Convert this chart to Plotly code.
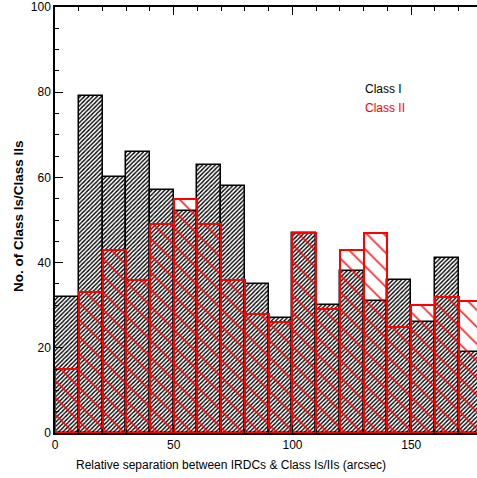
import plotly.graph_objects as go

# Histogram of separations (arcsec), 10-arcsec bins
bin_left = [0, 10, 20, 30, 40, 50, 60, 70, 80, 90, 100, 110, 120, 130, 140, 150, 160, 170]
class_i = [32, 79, 60, 66, 57, 52, 63, 58, 35, 27, 47, 30, 38, 31, 36, 26, 41, 19]
class_ii = [15, 33, 43, 36, 49, 55, 49, 36, 28, 26, 47, 29, 43, 47, 25, 30, 32, 31]
bin_width = 10
centers = [b + bin_width / 2 for b in bin_left]

W, H = 477, 478
ML, MR, MT, MB = 55, 0, 5, 45
x_max = 177.7

fig = go.Figure()

fig.add_trace(go.Bar(
    x=centers, y=class_i, width=bin_width,
    marker=dict(
        color="white",
        line=dict(color="black", width=1.5),
        pattern=dict(shape="/", fgcolor="black", bgcolor="white",
                     size=3, solidity=0.45, fillmode="replace"),
    ),
    name="Class I", showlegend=False,
))

fig.add_trace(go.Bar(
    x=centers, y=class_ii, width=bin_width,
    marker=dict(
        color="rgba(0,0,0,0)",
        line=dict(color="red", width=2),
        pattern=dict(shape="\\", fgcolor="red", bgcolor="rgba(0,0,0,0)",
                     size=12, solidity=0.12, fillmode="replace"),
    ),
    name="Class II", showlegend=False,
))

font = dict(family="Liberation Sans, Arial, sans-serif", size=12, color="black")

fig.update_layout(
    width=W, height=H,
    margin=dict(l=ML, r=MR, t=MT, b=MB),
    paper_bgcolor="white", plot_bgcolor="white",
    barmode="overlay", bargap=0,
    font=font,
    xaxis=dict(
        range=[0, x_max], showgrid=False, zeroline=False,
        showline=True, linecolor="black", linewidth=1.5,
        mirror="ticks", ticks="inside", ticklen=8, tickwidth=1,
        tickcolor="black", tick0=0, dtick=50,
        minor=dict(ticks="inside", ticklen=4, dtick=10, tickcolor="black", tickwidth=1),
        tickfont=font, ticklabeloverflow="allow",
    ),
    yaxis=dict(
        range=[0, 100], showgrid=False, zeroline=False,
        showline=True, linecolor="black", linewidth=1.5,
        mirror=False, ticks="inside", ticklen=8, tickwidth=1,
        tickcolor="black", tick0=0, dtick=20,
        minor=dict(ticks="inside", ticklen=4, dtick=5, tickcolor="black", tickwidth=1),
        tickfont=font, ticklabeloverflow="allow",
    ),
)

plot_w = W - ML - MR

# Axis titles
fig.add_annotation(
    text="Relative separation between IRDCs & Class Is/IIs (arcsec)",
    xref="paper", yref="paper",
    x=(231 - ML) / plot_w, y=-(465 - (H - MB)) / (H - MT - MB),
    xanchor="center", yanchor="middle", showarrow=False,
    font=dict(family="Liberation Sans, Arial, sans-serif", size=12, color="black"),
)
fig.add_annotation(
    text="<b>No. of Class Is/Class IIs</b>",
    xref="paper", yref="paper",
    x=(18 - ML) / plot_w, y=0.5 + (219 - 215) / (H - MT - MB),
    xanchor="center", yanchor="middle", textangle=-90, showarrow=False,
    font=dict(family="Liberation Sans, Arial, sans-serif", size=13.5, color="black"),
)

# Series labels
fig.add_annotation(text="Class I", x=129.7, y=80.8, xref="x", yref="y",
                   xanchor="left", yanchor="middle", showarrow=False,
                   font=dict(family="Liberation Sans, Arial, sans-serif", size=12, color="black"))
fig.add_annotation(text="Class II", x=129.7, y=76.2, xref="x", yref="y",
                   xanchor="left", yanchor="middle", showarrow=False,
                   font=dict(family="Liberation Sans, Arial, sans-serif", size=12, color="red"))

fig.write_html("out.html")
